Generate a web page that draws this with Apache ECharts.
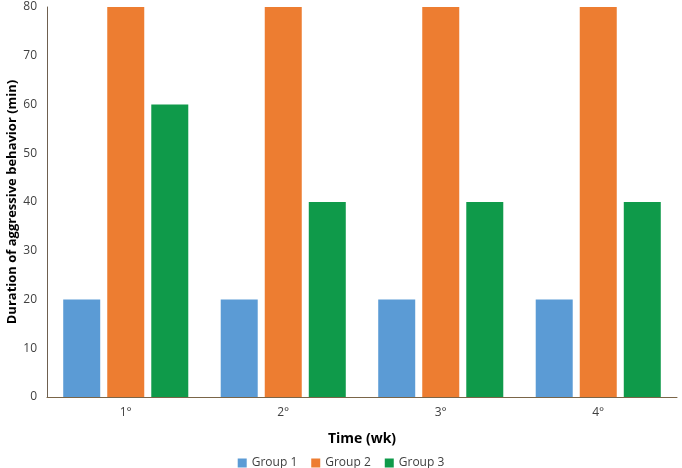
<!DOCTYPE html>
<html><head><meta charset="utf-8">
<script src="https://cdn.jsdelivr.net/npm/echarts@6/dist/echarts.min.js"></script>
<style>html,body{margin:0;padding:0;background:#fff}#c{width:682px;height:468px}</style>
</head><body><div id="c"></div>
<script>
var categories = ['1°', '2°', '3°', '4°'];
var group1 = [20, 20, 20, 20];
var group2 = [80, 80, 80, 80];
var group3 = [60, 40, 40, 40];
var yTicks = { min: 0, max: 80, interval: 10 };

var chart = echarts.init(document.getElementById('c'));
var font = 'Open Sans, Liberation Sans, sans-serif';
chart.setOption({
  animation: false,
  textStyle: { fontFamily: font },
  grid: { left: 47, right: 5, top: 7, bottom: 71, containLabel: false, outerBoundsMode: 'none' },
  legend: {
    top: 452, left: 'center', itemWidth: 9, itemHeight: 9, itemGap: 14,
    icon: 'rect',
    textStyle: { color: '#404040', fontSize: 12, fontFamily: font },
    data: ['Group 1', 'Group 2', 'Group 3']
  },
  xAxis: {
    type: 'category', data: categories,
    name: 'Time (wk)', nameLocation: 'middle', nameGap: 35,
    nameTextStyle: { fontWeight: 'bold', fontSize: 14, color: '#000', fontFamily: font },
    axisLine: { lineStyle: { color: '#7a6548', width: 1 } },
    axisTick: { show: false },
    axisLabel: { color: '#404040', fontSize: 12, margin: 10 }
  },
  yAxis: {
    type: 'value', min: yTicks.min, max: yTicks.max, interval: yTicks.interval,
    name: 'Duration of aggressive behavior (min)', nameLocation: 'middle', nameGap: 28,
    nameMoveOverlap: false,
    nameTextStyle: { fontWeight: 'bold', fontSize: 13, color: '#000', fontFamily: font },
    axisLine: { show: true, lineStyle: { color: '#6e6050', width: 1 } },
    axisTick: { show: false },
    splitLine: { show: false },
    axisLabel: { color: '#404040', fontSize: 12, margin: 10 }
  },
  series: [
    { name: 'Group 1', type: 'bar', data: group1, itemStyle: { color: '#5B9BD5' }, barWidth: 37, barGap: '19%' },
    { name: 'Group 2', type: 'bar', data: group2, itemStyle: { color: '#ED7D31' }, barWidth: 37, barGap: '19%' },
    { name: 'Group 3', type: 'bar', data: group3, itemStyle: { color: '#0F9A4A' }, barWidth: 37, barGap: '19%' }
  ]
});
</script></body></html>
